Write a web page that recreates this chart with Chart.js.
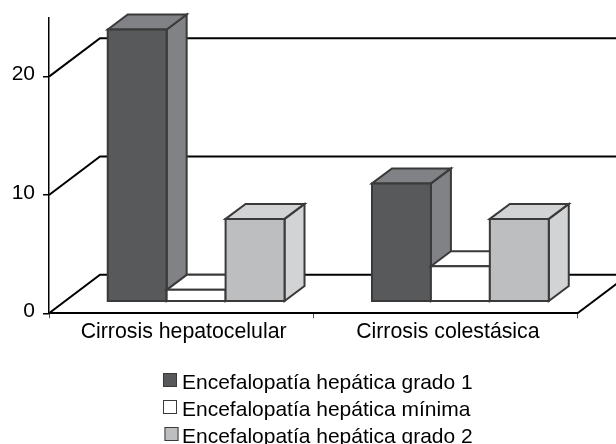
<!DOCTYPE html>
<html>
<head>
<meta charset="utf-8">
<style>html,body{margin:0;padding:0;background:#fff}canvas{display:block}</style>
<script src="https://cdn.jsdelivr.net/npm/chart.js@4/dist/chart.umd.min.js"></script>
</head>
<body>
<canvas id="c" width="616" height="444"></canvas>
<script>
const categories = ["Cirrosis hepatocelular", "Cirrosis colestásica"];
const seriesNames = ["Encefalopatía hepática grado 1", "Encefalopatía hepática mínima", "Encefalopatía hepática grado 2"];
const grado1 = [23, 10];
const minima = [1, 3];
const grado2 = [7, 7];
const frontColors = ["#58595b", "#ffffff", "#bcbec0"];
const sideColors = ["#808285", "#ffffff", "#d1d3d4"];
const EDGE = "#3a3a3a";
const FAMILY = '"Liberation Sans", Arial, sans-serif';
const FONT = '21px ' + FAMILY;

const WALL = {dx: 51, dy: 38.5};
const BAR_DEPTH = {dx: 20, dy: 15};
const BAR_SHIFT = {dx: 15, dy: 11.6};
const LEGEND = {boxX: [163, 163, 164.5], boxY: [373, 400, 427], textX: 182, textY: [389, 416, 443]};

const poly = (ctx, pts, fill, stroke, w) => {
  ctx.beginPath();
  pts.forEach((p, i) => i ? ctx.lineTo(p[0], p[1]) : ctx.moveTo(p[0], p[1]));
  ctx.closePath();
  if (fill) { ctx.fillStyle = fill; ctx.fill(); }
  ctx.lineWidth = w; ctx.strokeStyle = stroke; ctx.lineJoin = "miter"; ctx.stroke();
};

const scene3d = {
  id: "scene3d",
  beforeDatasetsDraw(chart) {
    const {ctx, chartArea: a, scales: {y}} = chart;
    ctx.save();
    ctx.strokeStyle = "#000"; ctx.lineWidth = 2;
    y.ticks.forEach(t => {
      const py = y.getPixelForValue(t.value);
      ctx.beginPath();
      ctx.moveTo(a.left, py);
      ctx.lineTo(a.left + WALL.dx, py - WALL.dy);
      ctx.lineTo(chart.width, py - WALL.dy);
      ctx.stroke();
    });
    const p0 = y.getPixelForValue(0);
    ctx.beginPath();
    ctx.moveTo(a.right, p0);
    ctx.lineTo(a.right + WALL.dx, p0 - WALL.dy);
    ctx.stroke();

    ctx.translate(BAR_SHIFT.dx, -BAR_SHIFT.dy);
    chart.data.datasets.forEach((ds, i) => {
      chart.getDatasetMeta(i).data.forEach(bar => {
        const {x, y: top, base, width} = bar.getProps(["x", "y", "base", "width"], true);
        const l = x - width / 2, r = x + width / 2;
        const d = BAR_DEPTH;
        poly(ctx, [[r, top], [r + d.dx, top - d.dy], [r + d.dx, base - d.dy], [r, base]], sideColors[i], EDGE, 2);
        poly(ctx, [[l, top], [l + d.dx, top - d.dy], [r + d.dx, top - d.dy], [r, top]], sideColors[i], EDGE, 2);
        bar.draw(ctx);
        poly(ctx, [[l, top], [r, top], [r, base], [l, base]], null, EDGE, 2);
      });
    });
    ctx.restore();
    return false;
  },
  afterDraw(chart) {
    const {ctx} = chart;
    ctx.save();
    ctx.font = FONT; ctx.textBaseline = "alphabetic"; ctx.textAlign = "left";
    chart.data.datasets.forEach((ds, i) => {
      ctx.fillStyle = frontColors[i];
      ctx.fillRect(LEGEND.boxX[i], LEGEND.boxY[i], 14, 14);
      ctx.strokeStyle = EDGE; ctx.lineWidth = 1;
      ctx.strokeRect(LEGEND.boxX[i] + .5, LEGEND.boxY[i] + .5, 13, 13);
      ctx.fillStyle = "#000";
      ctx.fillText(ds.label, LEGEND.textX, LEGEND.textY[i]);
    });
    ctx.restore();
  }
};

new Chart(document.getElementById("c"), {
  type: "bar",
  data: {
    labels: categories,
    datasets: [grado1, minima, grado2].map((values, i) => ({
      label: seriesNames[i],
      data: values,
      backgroundColor: frontColors[i],
      borderWidth: 0,
      barPercentage: 1,
      categoryPercentage: 0.669
    }))
  },
  options: {
    responsive: false,
    animation: false,
    layout: {padding: {left: 0, right: 38.5, top: 17.5, bottom: 0}},
    plugins: {legend: {display: false}, tooltip: {enabled: false}},
    scales: {
      x: {
        afterFit(s) { s.height = 130.7; s.paddingLeft = 0; s.paddingRight = 0; },
        border: {color: "#000", width: 2},
        grid: {drawOnChartArea: false, tickLength: 5, color: "#555", lineWidth: 1},
        ticks: {color: "#000", font: {family: FAMILY, size: 21.3}, padding: 1, maxRotation: 0, labelOffset: 2.5}
      },
      y: {
        min: 0, max: 25,
        afterFit(s) { s.width = 49; s.paddingTop = 0; s.paddingBottom = 0; },
        afterBuildTicks(s) { s.ticks = s.ticks.filter(t => t.value % 10 === 0); },
        border: {color: "#000", width: 1.5},
        grid: {drawOnChartArea: false, tickLength: 6, color: "#000", lineWidth: 1.5},
        ticks: {stepSize: 10, color: "#000", font: {family: FAMILY, size: 21}, padding: 8, labelOffset: -2}
      }
    }
  },
  plugins: [scene3d]
});
</script>
</body>
</html>
